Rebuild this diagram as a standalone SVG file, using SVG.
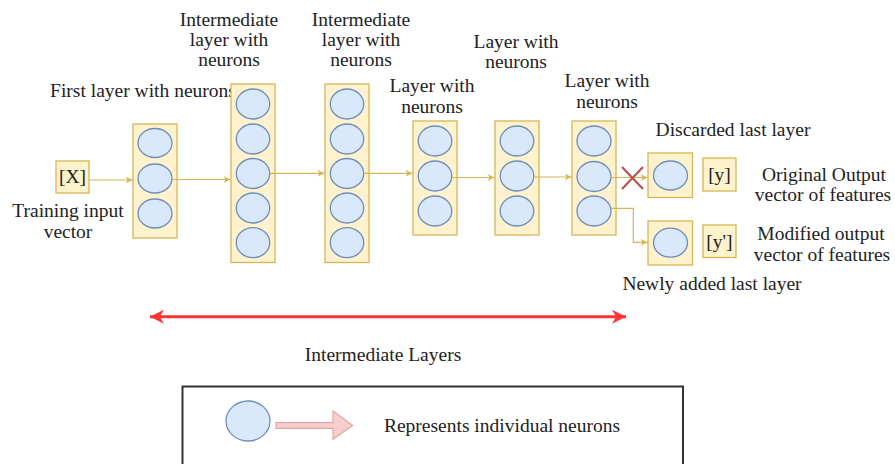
<svg xmlns="http://www.w3.org/2000/svg" width="895" height="464" viewBox="0 0 895 464">
<style>
text{font-family:"Liberation Serif","Times New Roman",serif;font-size:19.5px;fill:#222;text-anchor:middle}
.layer{fill:#fff2cc;stroke:#d6b656;stroke-width:1.3}
.n{fill:#dae8fc;stroke:#6c8ebf;stroke-width:1.3}
.c{fill:none;stroke:#d6b656;stroke-width:1.2;marker-end:url(#ah)}
</style>
<defs>
<marker id="ah" viewBox="0 0 10 10" refX="10" refY="5" markerWidth="7" markerHeight="7" markerUnits="userSpaceOnUse" orient="auto">
<path d="M0,0 L10,5 L0,10 L3,5 Z" fill="#d6b656"/>
</marker>
<marker id="rh" viewBox="0 0 10 10" refX="10" refY="5" markerWidth="14" markerHeight="14" markerUnits="userSpaceOnUse" orient="auto-start-reverse">
<path d="M0,0 L10,5 L0,10 L3,5 Z" fill="#ff3333"/>
</marker>
</defs>
<rect width="895" height="464" fill="#ffffff"/>

<g id="input">
<rect class="layer" x="56" y="161" width="33" height="32"/>
<text x="72.5" y="183">[X]</text>
<text x="68" y="217">Training input</text>
<text x="68" y="238">vector</text>
</g>

<g id="layer1">
<text x="143" y="97">First layer with neurons</text>
<rect class="layer" x="133" y="124" width="44" height="114"/>
<ellipse class="n" cx="155" cy="143" rx="17" ry="14.5"/>
<ellipse class="n" cx="155" cy="178.5" rx="17" ry="14.5"/>
<ellipse class="n" cx="155" cy="213.5" rx="17" ry="14.5"/>
</g>

<g id="layer2">
<text x="229" y="26">Intermediate</text>
<text x="229" y="46">layer with</text>
<text x="229" y="66">neurons</text>
<rect class="layer" x="231" y="84" width="44" height="178.5"/>
<ellipse class="n" cx="253" cy="104" rx="16.7" ry="15"/>
<ellipse class="n" cx="253" cy="139" rx="16.7" ry="15"/>
<ellipse class="n" cx="253" cy="173.5" rx="16.7" ry="15"/>
<ellipse class="n" cx="253" cy="208" rx="16.7" ry="15"/>
<ellipse class="n" cx="253" cy="242.7" rx="16.7" ry="15"/>
</g>

<g id="layer3">
<text x="361" y="26">Intermediate</text>
<text x="361" y="46">layer with</text>
<text x="361" y="66">neurons</text>
<rect class="layer" x="325" y="84" width="44" height="178.5"/>
<ellipse class="n" cx="347" cy="104" rx="16.7" ry="15"/>
<ellipse class="n" cx="347" cy="139" rx="16.7" ry="15"/>
<ellipse class="n" cx="347" cy="173.5" rx="16.7" ry="15"/>
<ellipse class="n" cx="347" cy="208" rx="16.7" ry="15"/>
<ellipse class="n" cx="347" cy="242.7" rx="16.7" ry="15"/>
</g>

<g id="layer4">
<text x="432" y="92">Layer with</text>
<text x="432" y="112.5">neurons</text>
<rect class="layer" x="413" y="121" width="44" height="114"/>
<ellipse class="n" cx="435" cy="141" rx="16.8" ry="15"/>
<ellipse class="n" cx="435" cy="176" rx="16.8" ry="15"/>
<ellipse class="n" cx="435" cy="211" rx="16.8" ry="15"/>
</g>

<g id="layer5">
<text x="516" y="47.5">Layer with</text>
<text x="516" y="68">neurons</text>
<rect class="layer" x="495" y="121" width="44" height="114"/>
<ellipse class="n" cx="517" cy="141" rx="16.8" ry="15"/>
<ellipse class="n" cx="517" cy="176" rx="16.8" ry="15"/>
<ellipse class="n" cx="517" cy="211" rx="16.8" ry="15"/>
</g>

<g id="layer6">
<text x="607" y="87">Layer with</text>
<text x="607" y="107.5">neurons</text>
<rect class="layer" x="572" y="121" width="44" height="114"/>
<ellipse class="n" cx="594" cy="141" rx="17" ry="15"/>
<ellipse class="n" cx="594" cy="176.5" rx="17" ry="15"/>
<ellipse class="n" cx="594" cy="211" rx="17" ry="15"/>
</g>

<g id="discarded">
<text x="733" y="136">Discarded last layer</text>
<rect class="layer" x="648" y="153" width="44.5" height="44.5"/>
<ellipse class="n" cx="670.5" cy="175.5" rx="17" ry="14.5"/>
</g>

<g id="output-y">
<rect class="layer" x="703" y="158" width="33" height="33"/>
<text x="719.5" y="181">[y]</text>
<text x="824" y="180.5">Original Output</text>
<text x="823" y="201">vector of features</text>
</g>

<g id="newlayer">
<rect class="layer" x="648" y="221" width="44.5" height="44"/>
<ellipse class="n" cx="670.5" cy="242.7" rx="17" ry="14.5"/>
<text x="712" y="290">Newly added last layer</text>
</g>

<g id="output-y2">
<rect class="layer" x="703" y="225" width="33" height="32.5"/>
<text x="719.5" y="248">[y']</text>
<text x="821" y="240">Modified output</text>
<text x="822" y="260.5">vector of features</text>
</g>

<g id="connectors">
<path class="c" d="M89,180 H132.5"/>
<path class="c" d="M172,179.5 H230.5"/>
<path class="c" d="M269.7,173.3 H324.5"/>
<path class="c" d="M363.7,173.3 H412.5"/>
<path class="c" d="M451.8,177.5 H494.5"/>
<path class="c" d="M533.8,177 H571.5"/>
<path class="c" d="M611,177.5 H647.5"/>
<path class="c" d="M611,208.3 H633.3 V242.3 H647.5"/>
<path d="M622,167 L643,189 M643,167 L622,189" stroke="#b85450" stroke-width="2.2" fill="none"/>
<path d="M150,316.7 H626" stroke="#ff3333" stroke-width="3" fill="none" marker-start="url(#rh)" marker-end="url(#rh)"/>
</g>

<g id="intermediate-label">
<text x="383" y="361">Intermediate Layers</text>
</g>

<g id="legend">
<rect x="182.5" y="386.5" width="500.5" height="90" fill="none" stroke="#333" stroke-width="2"/>
<ellipse class="n" cx="248" cy="421" rx="22" ry="20"/>
<path d="M276,422.7 H333 V411 L352.7,425.5 L333,439.3 V428.3 H276 Z" fill="#f8cecc" stroke="#e3a6a3" stroke-width="1.2"/>
<text x="502" y="432">Represents individual neurons</text>
</g>
</svg>
